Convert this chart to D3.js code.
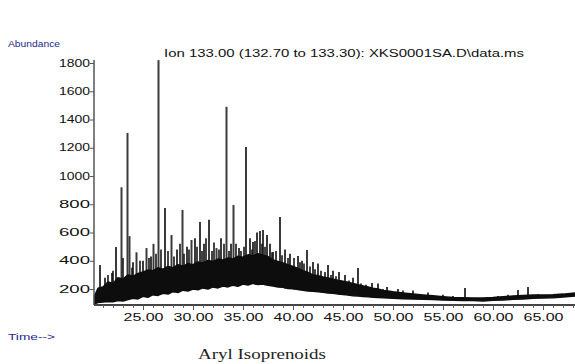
<!DOCTYPE html>
<html>
<head>
<meta charset="utf-8">
<script src="https://cdn.jsdelivr.net/npm/d3@7"></script>
<style>
	body{ margin:0; background:white; }
	svg{ display:block; font-family:"Liberation Sans", Arial, sans-serif; }
</style>
</head>
<body>
<div id="chart"></div>
<script>
// Retention time (min) of the dense baseline band, with its lower and upper edge (abundance).
let bandTime = [20.15, 20.5, 21, 21.5, 22, 22.5, 23, 23.5, 24, 24.5,
	25, 25.5, 26, 26.5, 27, 27.5, 28, 28.5, 29, 29.5,
	30, 30.5, 31, 31.5, 32, 32.5, 33, 33.5, 34, 34.5,
	35, 35.5, 36, 36.5, 37, 37.5, 38, 38.5, 39, 39.5,
	40, 40.5, 41, 41.5, 42, 42.5, 43, 43.5, 44, 44.5,
	45, 45.5, 46, 46.5, 47, 47.5, 48, 48.5, 49, 49.5,
	50, 51, 52, 53, 54, 55, 56, 57, 58, 59,
	60, 61, 62, 63, 64, 65, 66, 67, 68.2];
let bandLow = [95, 105, 108, 112, 110, 118, 115, 125, 135, 130,
	148, 142, 160, 155, 170, 165, 182, 175, 192, 186,
	200, 195, 208, 200, 215, 208, 222, 215, 228, 220,
	235, 228, 240, 232, 235, 226, 222, 215, 212, 204,
	202, 196, 192, 186, 185, 180, 178, 172, 170, 165,
	162, 158, 152, 150, 148, 145, 142, 140, 138, 136,
	134, 132, 130, 128, 126, 122, 120, 118, 118, 116,
	120, 122, 128, 130, 134, 136, 138, 144, 150];
let bandHigh = [150, 205, 215, 250, 240, 280, 270, 300, 290, 310,
	320, 335, 330, 350, 340, 360, 350, 372, 362, 380,
	372, 392, 385, 402, 395, 412, 405, 420, 412, 432,
	425, 442, 435, 450, 440, 430, 405, 395, 385, 372,
	360, 345, 330, 318, 300, 295, 285, 278, 270, 262,
	255, 248, 240, 230, 222, 214, 205, 200, 190, 186,
	180, 172, 165, 158, 152, 146, 140, 138, 137, 136,
	140, 146, 150, 155, 158, 158, 160, 164, 172];

// Individual peaks sticking out of the band.
let peakTime   = [20.7, 21.2, 21.9, 22.3, 22.85, 23.45, 23.65, 24.0, 24.35, 25.0, 25.35, 25.8, 26.05, 26.55, 27.2, 27.85, 28.4, 28.95, 29.4, 29.85, 30.2, 30.7, 31.1, 31.6, 32.35, 32.8, 33.35, 33.8, 34.05, 34.6, 35.3, 35.7, 36.0, 36.4, 36.7, 37.0, 37.4, 37.7, 38.0, 38.7, 39.2, 39.7, 40.5, 40.9, 41.4, 42.0, 42.5, 43.5, 44.0, 44.6, 45.2, 46.0, 46.5, 47.9, 48.5, 49.4, 50.5, 52.0, 53.5, 55.0, 57.2, 62.5, 63.5];
let peakHeight = [370, 280, 313, 497, 920, 1305, 575, 390, 460, 400, 490, 430, 520, 1820, 773, 582, 480, 760, 500, 547, 560, 675, 520, 690, 490, 560, 1490, 520, 795, 490, 1205, 560, 533, 600, 610, 618, 582, 520, 462, 710, 480, 450, 434, 400, 476, 391, 380, 370, 330, 320, 300, 280, 349, 242, 240, 214, 200, 190, 175, 160, 207, 193, 214];

// Small noise peaks on top of the band.
let minorTime   = [21.5, 22.0, 23.0, 23.9, 24.7, 25.6, 26.3, 26.8, 27.5, 28.1, 28.7, 29.1, 29.6, 30.4, 30.9, 31.3, 31.9, 32.1, 32.6, 33.1, 33.6, 34.3, 34.8, 35.1, 35.9, 36.2, 36.9, 37.2, 37.9, 38.3, 38.9, 39.5, 40.1, 40.7, 41.1, 41.7, 42.2, 42.8, 43.2, 43.8, 44.3, 45.6, 46.8, 47.3, 49.0, 51.0, 56.0, 60.5, 61.5, 64.5];
let minorHeight = [300, 330, 420, 350, 400, 420, 450, 480, 470, 430, 520, 450, 480, 500, 470, 560, 470, 530, 480, 520, 470, 520, 470, 500, 480, 540, 520, 500, 460, 470, 440, 420, 420, 390, 380, 360, 340, 330, 320, 300, 290, 260, 240, 230, 200, 190, 150, 150, 160, 165];

// Axis ticks.
let yTicks = [200, 400, 600, 800, 1000, 1200, 1400, 1600, 1800];
let xTicks = [25, 30, 35, 40, 45, 50, 55, 60, 65];

let titleText = "Ion 133.00 (132.70 to 133.30): XKS0001SA.D\\data.ms";


let width = 575, height = 364;
let svg = d3.select("#chart").append("svg")
  .attr("width", width)
  .attr("height", height);

let x = d3.scaleLinear().domain([20.1, 68.2]).range([94, 575]);
let y = d3.scaleLinear().domain([87, 1800]).range([305, 63]);

// Look up the lower band edge at a given time.
let lowAt = t => {
	let i = d3.bisectLeft(bandTime, t);
	i = Math.max(0, Math.min(bandTime.length-1, i));
	return bandLow[i];
}; // lowAt

let band = bandTime.map((t,i)=>({t: t, lo: bandLow[i], hi: bandHigh[i]}));

// Peaks, drawn first so the band covers their feet.
svg.append("g")
  .selectAll("line")
  .data(peakTime.map((t,i)=>({t: t, v: peakHeight[i]})))
  .enter()
  .append("line")
	.attr("x1", d=>x(d.t))
	.attr("x2", d=>x(d.t))
	.attr("y1", d=>y(lowAt(d.t)))
	.attr("y2", d=>y(d.v))
	.attr("stroke", "#3a3a3a")
	.attr("stroke-width", 2);

// Noise peaks.
svg.append("g")
  .selectAll("line")
  .data(minorTime.map((t,i)=>({t: t, v: minorHeight[i]})))
  .enter()
  .append("line")
	.attr("x1", d=>x(d.t))
	.attr("x2", d=>x(d.t))
	.attr("y1", d=>y(lowAt(d.t)))
	.attr("y2", d=>y(d.v))
	.attr("stroke", "#151515")
	.attr("stroke-width", 1.6);

let area = d3.area()
  .x(d=>x(d.t))
  .y0(d=>y(d.lo))
  .y1(d=>y(d.hi));

svg.append("path")
  .datum(band)
  .attr("d", area)
  .attr("fill", "#0d0d0d")
  .attr("stroke", "#0d0d0d")
  .attr("stroke-width", 1.5)
  .attr("stroke-linejoin", "round");


// Y axis.
let gy = svg.append("g")
  .attr("transform", "translate(94,0)")
  .call(d3.axisLeft(y).tickValues(yTicks).tickSize(4).tickFormat(d3.format("d")));
gy.select(".domain").attr("d", "M0,60V305").attr("stroke", "#555").attr("stroke-width", 1.5);
gy.selectAll(".tick line").attr("stroke", "#555");
gy.selectAll(".tick text")
  .attr("font-size", 10)
  .attr("fill", "#111")
  .attr("x", -4)
  .attr("textLength", 31)
  .attr("lengthAdjust", "spacingAndGlyphs");

// X axis: minor ticks every minute, labels every five.
let gxMinor = svg.append("g")
  .attr("transform", "translate(0,305)")
  .call(d3.axisBottom(x).tickValues(d3.range(21, 69)).tickSize(3).tickFormat(""));
gxMinor.select(".domain").attr("d", "M94,0H575").attr("stroke", "#444").attr("stroke-width", 2);
gxMinor.selectAll(".tick line").attr("stroke", "#666");

let gx = svg.append("g")
  .attr("transform", "translate(0,305)")
  .call(d3.axisBottom(x).tickValues(xTicks).tickSize(5).tickFormat(d3.format(".2f")));
gx.select(".domain").remove();
gx.selectAll(".tick line").attr("stroke", "#555");
gx.selectAll(".tick text")
  .attr("font-size", 10)
  .attr("fill", "#111")
  .attr("y", 9)
  .attr("textLength", 40)
  .attr("lengthAdjust", "spacingAndGlyphs");


// Texts.
svg.append("text")
  .attr("x", 164)
  .attr("y", 57)
  .attr("font-size", 10)
  .attr("fill", "#111")
  .attr("textLength", 360)
  .attr("lengthAdjust", "spacingAndGlyphs")
  .text(titleText);

svg.append("text")
  .attr("x", 8)
  .attr("y", 47)
  .attr("font-size", 8.5)
  .attr("fill", "#1c2a8a")
  .attr("textLength", 52)
  .attr("lengthAdjust", "spacingAndGlyphs")
  .text("Abundance");

svg.append("text")
  .attr("x", 8)
  .attr("y", 340)
  .attr("font-size", 8.5)
  .attr("fill", "#1c2a8a")
  .attr("textLength", 47)
  .attr("lengthAdjust", "spacingAndGlyphs")
  .text("Time-->");

svg.append("text")
  .attr("x", 198)
  .attr("y", 359)
  .attr("font-size", 15)
  .attr("font-family", "'Liberation Serif', 'Times New Roman', serif")
  .attr("fill", "#222")
  .attr("textLength", 128)
  .attr("lengthAdjust", "spacingAndGlyphs")
  .text("Aryl Isoprenoids");
</script>
</body>
</html>
